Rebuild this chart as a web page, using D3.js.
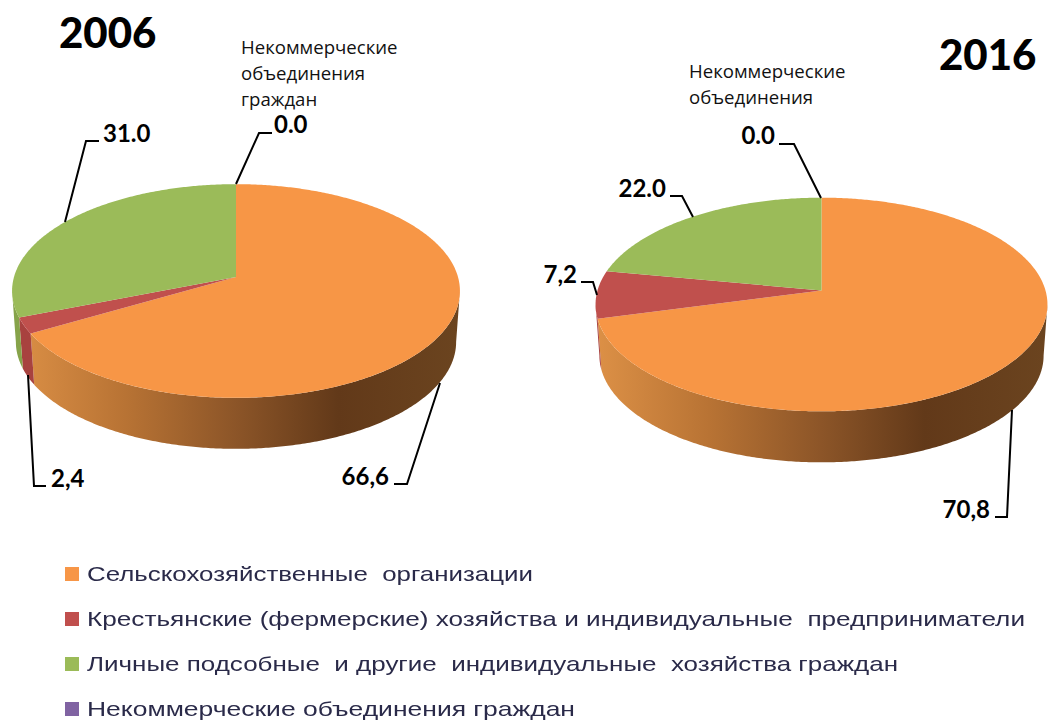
<!DOCTYPE html>
<html>
<head>
<meta charset="utf-8">
<script src="https://cdn.jsdelivr.net/npm/d3@7"></script>
<style>
    body { margin: 0; background: #fff; }
    svg { display: block; }
    .year { font-family: Lato, "Open Sans", sans-serif; font-weight: 900; font-size: 42px; fill: #000; }
    .value { font-family: Lato, "Open Sans", sans-serif; font-weight: 700; font-size: 24px; fill: #000; }
    .note { font-family: "Open Sans", sans-serif; font-size: 18.6px; fill: #111; }
    .legendText { font-family: "Liberation Sans", sans-serif; font-size: 21px; fill: #2b2b4a; white-space: pre; }
    .leader { fill: none; stroke: #000; stroke-width: 2; }
</style>
</head>
<body>
<script>
// chart data
var categories = [
    "Сельскохозяйственные  организации",
    "Крестьянские (фермерские) хозяйства и индивидуальные  предприниматели",
    "Личные подсобные  и другие  индивидуальные  хозяйства граждан",
    "Некоммерческие объединения граждан"
];
var values2006 = [66.6, 2.4, 31.0, 0.0];
var values2016 = [70.8, 7.2, 22.0, 0.0];
var labels2006 = ["66,6", "2,4", "31.0", "0.0"];
var labels2016 = ["70,8", "7,2", "22.0", "0.0"];
var notes2006 = ["Некоммерческие", "объединения", "граждан"];
var notes2016 = ["Некоммерческие", "объединения"];

var colors = d3.scaleOrdinal().domain(categories).range(["#f79646", "#c0504d", "#9bbb59", "#8064a2"]);
var wallColors = d3.scaleOrdinal().domain(categories).range(["url(#wall)", "#a8423f", "#86a34a", "#6d5590"]);

var w = 1050, h = 722;

var svg = d3.select("body").append("svg")
    .attr("width", w)
    .attr("height", h);

var defs = svg.append("defs");
defs.append("filter").attr("id", "soft")
    .append("feGaussianBlur").attr("stdDeviation", 0.5);

// one gradient per pie for the orange side
function addGradient(id, x0, x1) {
    var g = defs.append("linearGradient")
        .attr("id", id)
        .attr("gradientUnits", "userSpaceOnUse")
        .attr("x1", x0).attr("x2", x1).attr("y1", 0).attr("y2", 0);
    var stops = [[0, "#dc9046"], [0.25, "#b87334"], [0.5, "#8c5528"], [0.73, "#623919"], [1, "#6b441f"]];
    stops.forEach(function(s) {
        g.append("stop").attr("offset", s[0]).attr("stop-color", s[1]);
    });
}

// draws a tilted pie, the centre of the circle is not the centre of the ellipse (perspective)
function drawPie(opt) {
    var pie = d3.pie().sort(null).value(function(d) { return d.value; });
    var rows = categories.map(function(c, i) { return { name: c, value: opt.values[i] }; });
    var arcs = pie(rows);
    var p = opt.back;

    function project(a) {
        var u = Math.sin(a), v = Math.cos(a);
        var s = 1 + p * v;
        return [opt.cx + opt.ax * u / s, opt.cy - opt.ay * v / s];
    }

    // the bottom rim sits lower and is a bit narrower than the top
    function projectBottom(a) {
        var pt = project(a);
        return [opt.cx + (pt[0] - opt.cx) * opt.shrink, pt[1] + opt.depth];
    }

    // angles where the outline is widest, only the part in between shows a side wall
    var fine = d3.range(0, 2 * Math.PI, 0.002);
    var wallFrom = d3.greatest(fine, function(a) { return project(a)[0]; });
    var wallTo = d3.least(fine, function(a) { return project(a)[0]; });

    var line = d3.line();
    var g = svg.append("g").attr("class", "pie");
    addGradient(opt.grad, opt.cx - opt.ax, opt.cx + opt.ax);

    function angles(a0, a1) {
        return d3.range(a0, a1, 0.01).concat([a1]);
    }

    arcs.forEach(function(d) {
        var a0 = Math.max(d.startAngle, wallFrom), a1 = Math.min(d.endAngle, wallTo);
        if (a1 <= a0) return;
        var steps = angles(a0, a1);
        var top = steps.map(project);
        var bottom = steps.slice().reverse().map(projectBottom);
        g.append("path")
            .attr("d", line(top.concat(bottom)) + "Z")
            .attr("fill", wallColors(d.data.name).replace("wall", opt.grad));
    });

    arcs.forEach(function(d) {
        if (d.value === 0) return;
        var pts = [[opt.cx, opt.cy]].concat(angles(d.startAngle, d.endAngle).map(project));
        g.append("path")
            .attr("d", line(pts) + "Z")
            .attr("fill", colors(d.data.name));
    });
}

var pie2006 = { values: values2006, cx: 236, cy: 277, ax: 222, ay: 105, back: 0.131, depth: 51, shrink: 0.983, grad: "wall2006" };
var pie2016 = { values: values2016, cx: 821.5, cy: 290.5, ax: 224, ay: 105, back: 0.131, depth: 51, shrink: 0.983, grad: "wall2016" };
drawPie(pie2006);
drawPie(pie2016);

// leader lines and value labels
var line = d3.line();
var callouts = [
    { pts: [[236, 184], [259, 133], [272, 133]], x: 274, y: 133, anchor: "start", text: labels2006[3] },
    { pts: [[65, 222], [86, 141], [99, 141]], x: 103, y: 142, anchor: "start", text: labels2006[2] },
    { pts: [[28, 375], [34, 486], [46, 486]], x: 51, y: 487, anchor: "start", text: labels2006[1] },
    { pts: [[440, 383], [407, 484], [394, 484]], x: 389, y: 485, anchor: "end", text: labels2006[0] },
    { pts: [[821, 198], [794, 144], [779, 144]], x: 775, y: 144, anchor: "end", text: labels2016[3] },
    { pts: [[693, 217], [682, 196], [670, 196]], x: 666, y: 197, anchor: "end", text: labels2016[2] },
    { pts: [[597, 295], [593, 282], [581, 282]], x: 577, y: 283, anchor: "end", text: labels2016[1] },
    { pts: [[1012, 410], [1007, 517], [995, 517]], x: 990, y: 518, anchor: "end", text: labels2016[0] }
];
callouts.forEach(function(c) {
    svg.append("path").attr("class", "leader").attr("d", line(c.pts));
    svg.append("text").attr("class", "value")
        .attr("x", c.x).attr("y", c.y)
        .attr("text-anchor", c.anchor)
        .text(c.text);
});

// years
svg.append("text").attr("class", "year").attr("x", 59).attr("y", 48).text("2006");
svg.append("text").attr("class", "year").attr("x", 939).attr("y", 70).text("2016");

// small notes above the zero values
notes2006.forEach(function(t, i) {
    svg.append("text").attr("class", "note").attr("x", 241).attr("y", 54 + i * 26).text(t);
});
notes2016.forEach(function(t, i) {
    svg.append("text").attr("class", "note").attr("x", 689).attr("y", 78 + i * 26).text(t);
});

// legend
var legendY = d3.scalePoint().domain(categories).range([574, 709]);
var legendEnd = d3.scaleOrdinal().domain(categories).range([533, 1025, 898, 575]);
var legend = svg.selectAll(".legendRow")
    .data(categories)
    .enter()
    .append("g")
    .attr("class", "legendRow");
legend.append("rect")
    .attr("x", 65)
    .attr("y", function(d) { return legendY(d) - 7; })
    .attr("width", 14)
    .attr("height", 14)
    .attr("fill", function(d) { return colors(d); })
    .attr("filter", "url(#soft)");
legend.append("text")
    .attr("class", "legendText")
    .attr("x", 87)
    .attr("y", function(d) { return legendY(d) + 7; })
    .attr("textLength", function(d) { return legendEnd(d) - 87; })
    .attr("lengthAdjust", "spacingAndGlyphs")
    .attr("filter", "url(#soft)")
    .text(function(d) { return d; });
</script>
</body>
</html>
